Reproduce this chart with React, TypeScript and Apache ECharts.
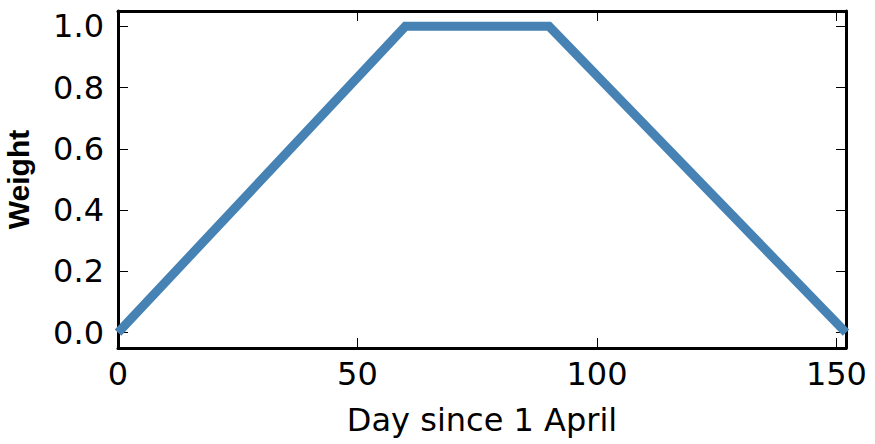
import React, { useEffect, useRef } from "react";
import * as echarts from "echarts";

const days = [0, 60, 90, 152];
const weights = [0, 1, 1, 0];
const xTicks = [0, 50, 100, 150];
const yTicks = [0, 0.2, 0.4, 0.6, 0.8, 1.0];

export default function App() {
  const ref = useRef<HTMLDivElement>(null);
  useEffect(() => {
    const chart = echarts.init(ref.current!, null, { renderer: "svg" });
    const font = "DejaVu Sans";
    const tickLabel = { color: "#000", fontSize: 32, fontFamily: font };
    const tick = { show: true, inside: true, length: 10, lineStyle: { color: "#000", width: 1 } };
    const border = { show: true, onZero: false, lineStyle: { color: "#000", width: 3 } };
    const data = days.map((d, i) => [d, weights[i]]);
    chart.setOption({
      animation: false,
      backgroundColor: "#fff",
      grid: {
        left: 118,
        right: 29,
        top: 11,
        bottom: 96,
        containLabel: false,
        outerBoundsMode: "none",
        show: false,
      },
      xAxis: [
        {
          type: "value",
          min: 0,
          max: 152,
          interval: 50,
          name: "Day since 1 April",
          nameLocation: "middle",
          nameGap: 56,
          nameTextStyle: { color: "#000", fontSize: 32, fontFamily: font },
          axisLine: border,
          axisTick: tick,
          splitLine: { show: false },
          axisLabel: {
            ...tickLabel,
            margin: 10,
            showMinLabel: true,
            showMaxLabel: false,
            formatter: (v: number) => (xTicks.includes(v) ? String(v) : ""),
          },
        },
        {
          type: "value",
          position: "top",
          min: 0,
          max: 152,
          interval: 50,
          axisLine: border,
          axisTick: tick,
          splitLine: { show: false },
          axisLabel: { show: false },
        },
      ],
      yAxis: [
        {
          type: "value",
          min: -0.05,
          max: 1.05,
          splitNumber: 5,
          name: "Weight",
          nameLocation: "middle",
          nameGap: 85,
          nameRotate: 90,
          nameTextStyle: {
            color: "#000",
            fontSize: 30,
            fontWeight: "bold",
            fontFamily: "Liberation Sans",
          },
          axisLine: border,
          axisTick: tick,
          splitLine: { show: false },
          axisLabel: {
            ...tickLabel,
            margin: 14,
            showMinLabel: false,
            showMaxLabel: false,
            formatter: (v: number) => {
              const m = yTicks.find((t) => Math.abs(t - v) < 1e-6);
              return m === undefined ? "" : m.toFixed(1);
            },
          },
        },
        {
          type: "value",
          position: "right",
          min: -0.05,
          max: 1.05,
          splitNumber: 5,
          axisLine: border,
          axisTick: tick,
          splitLine: { show: false },
          axisLabel: { show: false },
        },
      ],
      series: [
        {
          type: "line",
          data,
          showSymbol: false,
          symbol: "none",
          lineStyle: { color: "#4682b4", width: 9, cap: "butt", join: "miter" },
          clip: false,
          z: 1,
        },
        {
          type: "line",
          xAxisIndex: 1,
          yAxisIndex: 1,
          data,
          showSymbol: false,
          symbol: "none",
          silent: true,
          lineStyle: { opacity: 0, width: 0 },
        },
      ],
    });
    return () => chart.dispose();
  }, []);
  return <div ref={ref} style={{ width: 875, height: 444, position: "absolute", left: 0, top: 0 }} />;
}
